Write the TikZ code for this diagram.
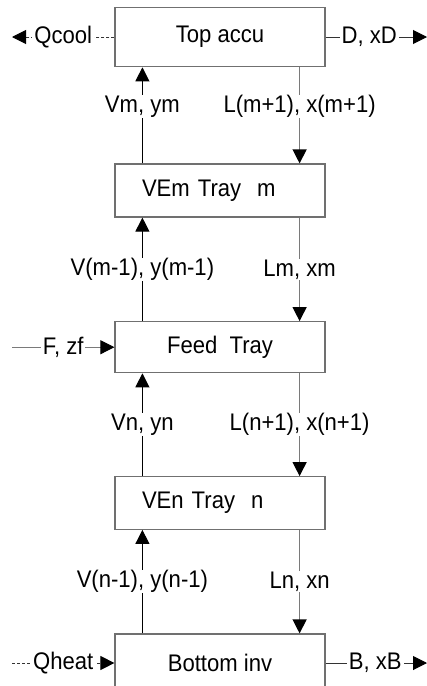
\documentclass[tikz,border=0pt]{standalone}
\usepackage{fontspec}
\setmainfont[FakeStretch=0.92]{Liberation Sans}
\usetikzlibrary{arrows.meta}
\definecolor{boxgray}{HTML}{707070}
\definecolor{linegray}{HTML}{7A7A7A}
\begin{document}
\begin{tikzpicture}[x=0.5pt,y=-0.5pt,
  font=\fontsize{12}{14}\selectfont,
  box/.style={draw=boxgray, line width=0.6pt, minimum width=105pt, inner sep=0pt, anchor=center},
  leftbox/.style={box, text width=78pt, inner xsep=13.5pt, align=left},
  lbl/.style={fill=white, inner xsep=1pt, inner ysep=0.3pt},
  tip/.style={-{Triangle[length=7pt,width=7pt,color=black]}},
  vline/.style={tip, draw=black, line width=0.5pt},
  gline/.style={tip, draw=linegray, line width=0.6pt},
  hline/.style={tip, draw=black!80, line width=0.5pt},
  dotline/.style={tip, draw=black!80, line width=0.5pt, dash pattern=on 1.5pt off 1pt}
]
\useasboundingbox (0,0) rectangle (427,686);
\clip (0,0) rectangle (427,686);

\node[box, minimum height=29.7pt] (top) at (220,37) {Top accu};
\node[leftbox, minimum height=26.5pt] (vem) at (220,190.5) {VEm Tray~~m};
\node[box, minimum height=25.5pt] (feed) at (220,347.2) {Feed~~Tray};
\node[leftbox, minimum height=26.3pt] (ven) at (220,503) {VEn Tray~~n};
\node[box, minimum height=29pt] (bot) at (220,663) {Bottom inv};

% vapour (up) lines
\draw[vline] ([xshift=14pt]vem.north west) -- ([xshift=14pt]top.south west) node[lbl, pos=0.59] {Vm, ym};
\draw[vline] ([xshift=14pt]feed.north west) -- ([xshift=14pt]vem.south west) node[lbl, midway] {V(m-1), y(m-1)};
\draw[vline] ([xshift=14pt]ven.north west) -- ([xshift=14pt]feed.south west) node[lbl, midway] {Vn, yn};
\draw[vline] ([xshift=14pt]bot.north west) -- ([xshift=14pt]ven.south west) node[lbl, midway] {V(n-1), y(n-1)};

% liquid (down) lines
\draw[gline] ([xshift=-13pt]top.south east) -- ([xshift=-13pt]vem.north east) node[lbl, pos=0.41] {L(m+1), x(m+1)};
\draw[gline] ([xshift=-13pt]vem.south east) -- ([xshift=-13pt]feed.north east) node[lbl, midway] {Lm, xm};
\draw[gline] ([xshift=-13pt]feed.south east) -- ([xshift=-13pt]ven.north east) node[lbl, midway] {L(n+1), x(n+1)};
\draw[gline] ([xshift=-13pt]ven.south east) -- ([xshift=-13pt]bot.north east) node[lbl, midway] {Ln, xn};

% side streams
\coordinate (qc) at (12,37);
\coordinate (dx) at (427,37);
\coordinate (fz) at (12,347.2);
\coordinate (qh) at (12,663);
\coordinate (bx) at (427,663);

\draw[dotline] (top.west) -- (qc) node[lbl, midway] {Qcool};
\draw[hline] (top.east) -- (dx) node[lbl, pos=0.43] {D, xD};
\draw[hline, draw=linegray] (fz) -- (feed.west) node[lbl, midway] {F, zf};
\draw[dotline] (qh) -- (bot.west) node[lbl, midway] {Qheat};
\draw[hline] (bot.east) -- (bx) node[lbl, pos=0.49] {B, xB};
\end{tikzpicture}
\end{document}
